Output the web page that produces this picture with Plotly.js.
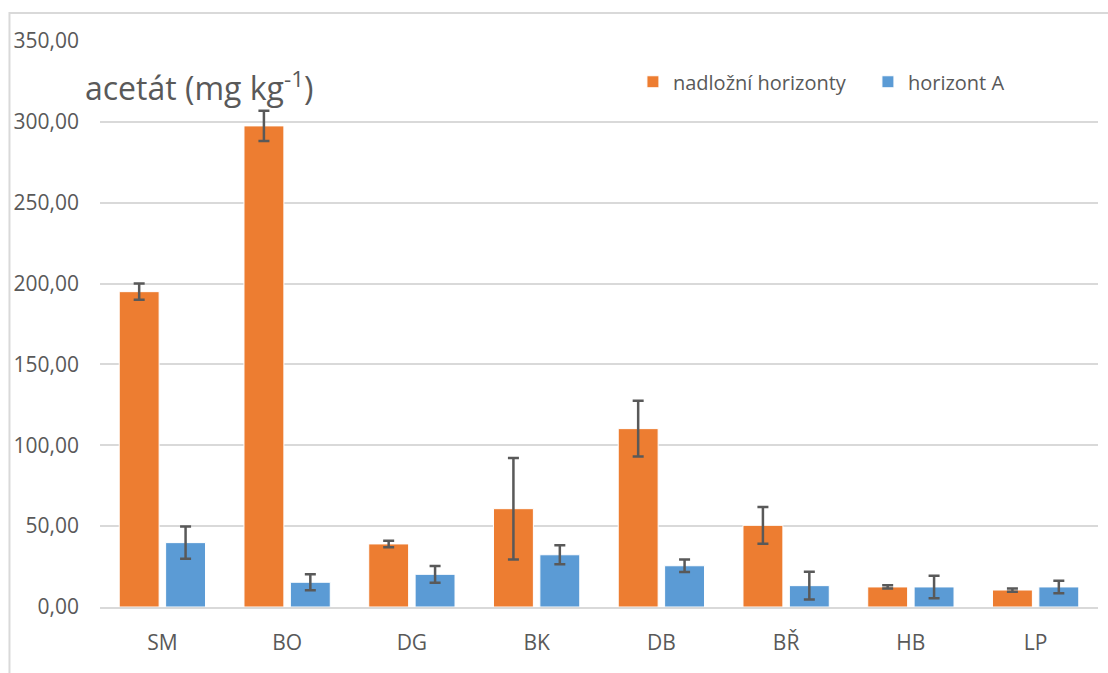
<!DOCTYPE html>
<html>
<head>
<meta charset="utf-8">
<script src="https://cdn.plot.ly/plotly-3.0.1.min.js"></script>
<style>html,body{margin:0;padding:0;background:#fff;}#chart{width:1108px;height:673px;}</style>
</head>
<body>
<div id="chart"></div>
<script>
const categories = ["SM", "BO", "DG", "BK", "DB", "BŘ", "HB", "LP"];
const nadlozni = [195, 297.5, 39, 60.8, 110.3, 50.5, 12.4, 10.5];
const nadlozniErr = [5, 9.3, 2, 31.4, 17.2, 11.4, 1, 1];
const horizontA = [39.8, 15.3, 20.2, 32.3, 25.5, 13.2, 12.4, 12.4];
const horizontAErr = [10, 5, 5.2, 5.9, 3.9, 8.6, 7, 3.9];
const yTicks = [0, 50, 100, 150, 200, 250, 300, 350];

const FONT = "'Open Sans', sans-serif";
const GRAY = "#595959";

const errStyle = {type: "data", visible: true, color: GRAY, thickness: 2.5, width: 5.5};

const traces = [
  {
    type: "bar", name: "nadložní horizonty", x: categories, y: nadlozni,
    marker: {color: "#ED7D31", line: {color: "#ffffff", width: 1}},
    error_y: Object.assign({array: nadlozniErr}, errStyle)
  },
  {
    type: "bar", name: "horizont A", x: categories, y: horizontA,
    marker: {color: "#5B9BD5", line: {color: "#ffffff", width: 1}},
    error_y: Object.assign({array: horizontAErr}, errStyle)
  }
];

const layout = {
  width: 1108, height: 673,
  margin: {l: 100, r: 5, t: 41, b: 66},
  paper_bgcolor: "#ffffff", plot_bgcolor: "#ffffff",
  separators: ", ",
  barmode: "group", bargap: 0.256, bargroupgap: 0.14,
  font: {family: FONT, color: GRAY, size: 21},
  showlegend: true,
  legend: {
    orientation: "h", x: 0.534, xanchor: "left", y: 0.928, yanchor: "middle",
    font: {family: FONT, size: 20, color: GRAY}, bgcolor: "rgba(0,0,0,0)",
    traceorder: "normal", entrywidth: 190, entrywidthmode: "pixels"
  },
  xaxis: {
    type: "category", showgrid: false, zeroline: false,
    showline: true, linecolor: "#d9d9d9", linewidth: 2,
    ticks: "", tickfont: {family: FONT, size: 21, color: GRAY},
    ticklabelstandoff: 16, fixedrange: true
  },
  yaxis: {
    range: [0, 350], tickvals: yTicks, tickformat: ".2f",
    showgrid: true, gridcolor: "#d9d9d9", gridwidth: 2,
    zeroline: false, showline: false, ticks: "",
    tickfont: {family: FONT, size: 21, color: GRAY},
    ticklabelstandoff: 20, fixedrange: true
  },
  annotations: [{
    xref: "paper", yref: "paper", x: -0.017, y: 0.92, xanchor: "left", yanchor: "middle",
    text: "acetát (mg kg<sup>-1</sup>)", showarrow: false,
    font: {family: FONT, size: 32, color: GRAY}
  }],
  shapes: [{
    type: "rect", xref: "paper", yref: "paper",
    x0: -0.0907, x1: 1.1, y0: -0.2, y1: 1.0495,
    line: {color: "#d9d9d9", width: 2}, fillcolor: "rgba(0,0,0,0)", layer: "below"
  }]
};

Plotly.newPlot("chart", traces, layout, {displayModeBar: false, staticPlot: true});
</script>
</body>
</html>
